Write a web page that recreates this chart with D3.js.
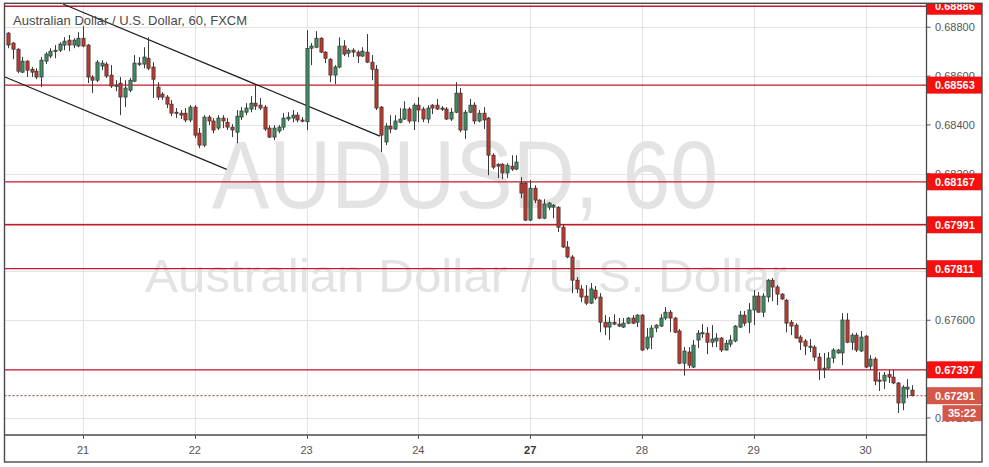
<!DOCTYPE html>
<html><head><meta charset="utf-8">
<script src="https://cdn.jsdelivr.net/npm/d3@7"></script>
<style>html,body{margin:0;padding:0;background:#fff;}svg{display:block;}</style>
</head><body><svg id="c" width="989" height="467"></svg>
<script>
const title = "Australian Dollar / U.S. Dollar, 60, FXCM";
const watermarkMain = "AUDUSD, 60";
const watermarkSub = "Australian Dollar / U.S. Dollar";
const dayLabels = ["21","22","23","24","27","28","29","30"];
const dayBars = [16,40,64,88,112,136,160,184];
const weekStart = ["27"];
const priceTicks = [0.688,0.686,0.684,0.682,0.680,0.678,0.676,0.674,0.672];
const levels = [0.68886,0.68563,0.68167,0.67991,0.67811,0.67397];
const lastPrice = 0.67291;
const countdown = "35:22";
const channelUpper = [[11.7,0.68895],[79.75,0.68354]];
const channelLower = [[-0.75,0.68596],[46.85,0.68218]];

const open = [0.68776,0.68735,0.68710,0.68616,0.68661,0.68628,0.68620,0.68596,0.68661,0.68682,0.68702,0.68706,0.68727,0.68747,0.68727,0.68723,0.68755,0.68727,0.68596,0.68583,
0.68641,0.68649,0.68604,0.68563,0.68571,0.68514,0.68542,0.68579,0.68649,0.68649,0.68673,0.68637,0.68555,0.68526,0.68514,0.68485,0.68452,0.68448,0.68448,0.68420,
0.68473,0.68366,0.68317,0.68432,0.68416,0.68387,0.68428,0.68411,0.68391,0.68370,0.68432,0.68452,0.68465,0.68489,0.68481,0.68473,0.68387,0.68350,0.68375,0.68391,
0.68424,0.68428,0.68440,0.68420,0.68413,0.68714,0.68718,0.68755,0.68698,0.68669,0.68604,0.68637,0.68723,0.68694,0.68706,0.68698,0.68682,0.68698,0.68657,0.68628,
0.68473,0.68330,0.68395,0.68383,0.68411,0.68424,0.68465,0.68416,0.68481,0.68465,0.68424,0.68481,0.68481,0.68469,0.68465,0.68424,0.68452,0.68530,0.68379,0.68452,
0.68481,0.68416,0.68448,0.68428,0.68276,0.68239,0.68239,0.68203,0.68231,0.68219,0.68162,0.68162,0.68010,0.68141,0.68092,0.68018,0.68063,0.68063,0.68063,0.67981,
0.67900,0.67859,0.67764,0.67728,0.67699,0.67670,0.67723,0.67695,0.67592,0.67572,0.67592,0.67584,0.67572,0.67588,0.67609,0.67592,0.67621,0.67486,0.67531,0.67568,
0.67576,0.67609,0.67633,0.67609,0.67556,0.67424,0.67470,0.67408,0.67519,0.67547,0.67547,0.67510,0.67515,0.67527,0.67478,0.67502,0.67515,0.67572,0.67621,0.67592,
0.67642,0.67699,0.67633,0.67695,0.67764,0.67736,0.67707,0.67682,0.67592,0.67580,0.67531,0.67515,0.67494,0.67490,0.67449,0.67404,0.67404,0.67445,0.67466,0.67466,
0.67601,0.67510,0.67539,0.67474,0.67535,0.67412,0.67441,0.67355,0.67351,0.67378,0.67367,0.67343,0.67261,0.67318,0.67314];
const high = [0.68780,0.68739,0.68714,0.68678,0.68665,0.68637,0.68632,0.68678,0.68698,0.68714,0.68727,0.68739,0.68759,0.68768,0.68755,0.68780,0.68804,0.68731,0.68604,0.68665,
0.68665,0.68657,0.68645,0.68583,0.68596,0.68583,0.68592,0.68686,0.68678,0.68718,0.68759,0.68657,0.68575,0.68534,0.68522,0.68502,0.68469,0.68461,0.68469,0.68481,
0.68481,0.68387,0.68440,0.68440,0.68428,0.68440,0.68440,0.68428,0.68403,0.68461,0.68473,0.68489,0.68518,0.68563,0.68510,0.68481,0.68399,0.68399,0.68399,0.68448,
0.68452,0.68461,0.68452,0.68432,0.68788,0.68735,0.68784,0.68759,0.68702,0.68673,0.68645,0.68759,0.68747,0.68714,0.68714,0.68706,0.68718,0.68772,0.68686,0.68645,
0.68477,0.68407,0.68440,0.68440,0.68469,0.68497,0.68473,0.68489,0.68514,0.68473,0.68481,0.68485,0.68506,0.68477,0.68473,0.68469,0.68575,0.68551,0.68461,0.68506,
0.68493,0.68461,0.68473,0.68432,0.68284,0.68243,0.68243,0.68243,0.68276,0.68276,0.68186,0.68166,0.68174,0.68153,0.68096,0.68096,0.68084,0.68076,0.68067,0.67994,
0.67924,0.67867,0.67777,0.67744,0.67744,0.67752,0.67740,0.67711,0.67621,0.67613,0.67625,0.67609,0.67609,0.67613,0.67621,0.67625,0.67625,0.67568,0.67580,0.67584,
0.67625,0.67654,0.67642,0.67613,0.67564,0.67490,0.67490,0.67519,0.67560,0.67584,0.67572,0.67580,0.67547,0.67531,0.67519,0.67539,0.67580,0.67638,0.67638,0.67670,
0.67723,0.67715,0.67711,0.67769,0.67773,0.67744,0.67711,0.67687,0.67601,0.67588,0.67539,0.67523,0.67523,0.67498,0.67466,0.67466,0.67470,0.67486,0.67482,0.67629,
0.67629,0.67547,0.67549,0.67556,0.67539,0.67457,0.67449,0.67388,0.67388,0.67396,0.67396,0.67347,0.67334,0.67359,0.67334];
const low = [0.68714,0.68669,0.68612,0.68612,0.68596,0.68596,0.68587,0.68555,0.68649,0.68673,0.68673,0.68698,0.68706,0.68702,0.68714,0.68718,0.68718,0.68571,0.68530,0.68575,
0.68624,0.68592,0.68551,0.68538,0.68440,0.68473,0.68534,0.68575,0.68641,0.68632,0.68624,0.68510,0.68502,0.68502,0.68469,0.68436,0.68428,0.68424,0.68411,0.68411,
0.68346,0.68305,0.68309,0.68399,0.68366,0.68379,0.68387,0.68379,0.68350,0.68325,0.68420,0.68440,0.68452,0.68461,0.68461,0.68375,0.68346,0.68338,0.68366,0.68379,
0.68416,0.68411,0.68411,0.68411,0.68379,0.68645,0.68714,0.68694,0.68653,0.68575,0.68567,0.68632,0.68682,0.68678,0.68678,0.68653,0.68678,0.68653,0.68583,0.68461,
0.68289,0.68317,0.68366,0.68379,0.68407,0.68420,0.68407,0.68379,0.68411,0.68411,0.68407,0.68444,0.68461,0.68457,0.68420,0.68416,0.68448,0.68370,0.68342,0.68448,
0.68403,0.68411,0.68383,0.68194,0.68219,0.68182,0.68178,0.68182,0.68211,0.68215,0.68100,0.68006,0.68006,0.68080,0.68014,0.68014,0.68051,0.68018,0.67961,0.67896,
0.67854,0.67711,0.67711,0.67674,0.67662,0.67666,0.67683,0.67551,0.67539,0.67519,0.67580,0.67572,0.67568,0.67584,0.67584,0.67572,0.67474,0.67478,0.67482,0.67551,
0.67572,0.67601,0.67551,0.67547,0.67420,0.67373,0.67404,0.67404,0.67486,0.67527,0.67461,0.67490,0.67490,0.67470,0.67476,0.67490,0.67510,0.67568,0.67576,0.67547,
0.67580,0.67630,0.67613,0.67674,0.67678,0.67662,0.67683,0.67551,0.67539,0.67525,0.67478,0.67457,0.67470,0.67433,0.67355,0.67363,0.67398,0.67424,0.67462,0.67416,
0.67506,0.67478,0.67470,0.67470,0.67404,0.67396,0.67334,0.67310,0.67318,0.67343,0.67338,0.67220,0.67232,0.67281,0.67288];
const close = [0.68727,0.68710,0.68620,0.68661,0.68624,0.68616,0.68596,0.68665,0.68690,0.68702,0.68706,0.68731,0.68743,0.68727,0.68747,0.68755,0.68723,0.68596,0.68583,0.68657,
0.68653,0.68600,0.68559,0.68559,0.68514,0.68551,0.68583,0.68653,0.68653,0.68678,0.68632,0.68587,0.68514,0.68514,0.68485,0.68448,0.68448,0.68440,0.68420,0.68473,
0.68358,0.68317,0.68432,0.68416,0.68379,0.68428,0.68416,0.68391,0.68379,0.68436,0.68457,0.68469,0.68489,0.68477,0.68469,0.68383,0.68350,0.68387,0.68391,0.68428,
0.68432,0.68440,0.68420,0.68416,0.68713,0.68723,0.68755,0.68698,0.68673,0.68604,0.68637,0.68723,0.68690,0.68706,0.68698,0.68682,0.68702,0.68657,0.68628,0.68469,
0.68358,0.68395,0.68383,0.68416,0.68424,0.68465,0.68416,0.68481,0.68461,0.68424,0.68469,0.68469,0.68465,0.68465,0.68424,0.68452,0.68530,0.68379,0.68452,0.68481,
0.68416,0.68448,0.68420,0.68276,0.68227,0.68231,0.68203,0.68235,0.68219,0.68248,0.68121,0.68010,0.68141,0.68092,0.68018,0.68076,0.68080,0.68071,0.67981,0.67900,
0.67859,0.67764,0.67728,0.67695,0.67670,0.67728,0.67691,0.67592,0.67572,0.67592,0.67584,0.67576,0.67588,0.67609,0.67588,0.67621,0.67478,0.67531,0.67568,0.67580,
0.67609,0.67633,0.67609,0.67551,0.67424,0.67474,0.67416,0.67498,0.67547,0.67549,0.67510,0.67523,0.67527,0.67478,0.67506,0.67519,0.67576,0.67621,0.67588,0.67642,
0.67699,0.67633,0.67699,0.67764,0.67736,0.67707,0.67687,0.67588,0.67576,0.67527,0.67510,0.67494,0.67490,0.67449,0.67400,0.67400,0.67445,0.67478,0.67478,0.67601,
0.67510,0.67539,0.67478,0.67531,0.67408,0.67441,0.67351,0.67353,0.67375,0.67367,0.67343,0.67261,0.67326,0.67326,0.67291];

const svg = d3.select("#c");
const L = 4.5, R = 926.5, T = 3.3, B = 435, RB = 982, BB = 462;
const x = d3.scaleLinear().domain([16,184]).range([83,865.5]);
const y = d3.scaleLinear().domain([0.6713,0.68898]).range([B,T]);
const FONT = "'Liberation Sans', Arial, sans-serif";

svg.append("defs").append("clipPath").attr("id","plot")
  .append("rect").attr("x",L).attr("y",T).attr("width",R-L).attr("height",B-T);
svg.select("defs").append("clipPath").attr("id","axisclip")
  .append("rect").attr("x",R).attr("y",T).attr("width",RB-R).attr("height",BB-T);

const plot = svg.append("g").attr("clip-path","url(#plot)");

// watermark
plot.append("text").text(watermarkMain).attr("x",465).attr("y",208)
  .attr("text-anchor","middle").attr("font-family",FONT).attr("font-size",96)
  .attr("textLength",506).attr("lengthAdjust","spacingAndGlyphs").attr("fill","#e3e3e3");
plot.append("text").text(watermarkSub).attr("x",466).attr("y",292)
  .attr("text-anchor","middle").attr("font-family",FONT).attr("font-size",47)
  .attr("textLength",642).attr("lengthAdjust","spacingAndGlyphs").attr("fill","#e3e3e3");

// grid
plot.selectAll("line.hg").data(priceTicks).enter().append("line")
  .attr("x1",L).attr("x2",R).attr("y1",d=>Math.round(y(d))+0.5).attr("y2",d=>Math.round(y(d))+0.5)
  .attr("stroke","#e3e3e3").attr("stroke-width",1);
plot.selectAll("line.vg").data(dayBars).enter().append("line")
  .attr("y1",T).attr("y2",B).attr("x1",d=>Math.round(x(d))+0.5).attr("x2",d=>Math.round(x(d))+0.5)
  .attr("stroke","#e3e3e3").attr("stroke-width",1);

// level lines
plot.selectAll("line.lv").data(levels).enter().append("line")
  .attr("x1",L).attr("x2",R).attr("y1",d=>y(d)).attr("y2",d=>y(d))
  .attr("stroke","#c4192d").attr("stroke-width",1.3);
// last price dotted
plot.append("line").attr("x1",L).attr("x2",R).attr("y1",y(lastPrice)).attr("y2",y(lastPrice))
  .attr("stroke","#8e3b3b").attr("stroke-width",1).attr("stroke-dasharray","2,2");

// channel
[channelUpper, channelLower].forEach(c=>{
  plot.append("line").attr("x1",x(c[0][0])).attr("y1",y(c[0][1])).attr("x2",x(c[1][0])).attr("y2",y(c[1][1]))
    .attr("stroke","#1e1e1e").attr("stroke-width",1.2);
});

// candles
const data = open.map((o,i)=>({i,o,h:high[i],l:low[i],c:close[i]}));
const cg = plot.append("g");
cg.selectAll("line.w").data(data).enter().append("line")
  .attr("x1",d=>Math.round(x(d.i))+0.5).attr("x2",d=>Math.round(x(d.i))+0.5)
  .attr("y1",d=>y(d.h)).attr("y2",d=>y(d.l)).attr("stroke","#3b3b3b").attr("stroke-width",1);
cg.selectAll("rect.b").data(data).enter().append("rect")
  .attr("x",d=>Math.round(x(d.i))+0.5-1.6).attr("width",3.2)
  .attr("y",d=>y(Math.max(d.o,d.c)))
  .attr("height",d=>Math.max(1.2,y(Math.min(d.o,d.c))-y(Math.max(d.o,d.c))))
  .attr("fill",d=>d.c>=d.o?"#3f8f63":"#c0392e")
  .attr("stroke","#333").attr("stroke-width",0.7);

// title
svg.append("text").text(title).attr("x",13).attr("y",25).attr("font-family",FONT)
  .attr("font-size",13).attr("fill","#4a4a4a");

// right axis ticks and labels (labels fully hidden behind level tags are not drawn)
const visibleTicks = priceTicks.filter(t=>!levels.some(l=>Math.abs(l-t)<0.00015));
const ax = svg.append("g").attr("clip-path","url(#axisclip)");
ax.selectAll("line.t").data(priceTicks).enter().append("line")
  .attr("x1",R).attr("x2",R+4).attr("y1",d=>y(d)).attr("y2",d=>y(d)).attr("stroke","#555");
ax.selectAll("text.t").data(visibleTicks).enter().append("text")
  .attr("x",935).attr("y",d=>y(d)+4).text(d=>d.toFixed(5))
  .attr("font-family",FONT).attr("font-size",11).attr("fill","#555");

// level labels
const lg = ax.selectAll("g.lv").data(levels).enter().append("g");
lg.append("rect").attr("x",R).attr("width",RB-R).attr("y",d=>y(d)-8.5).attr("height",17).attr("fill","#f50f0f");
lg.append("text").attr("x",935).attr("y",d=>y(d)+4).text(d=>d.toFixed(5))
  .attr("font-family",FONT).attr("font-size",11).attr("font-weight","bold").attr("fill","#fff");

// last price label + countdown
ax.append("rect").attr("x",R).attr("width",RB-R).attr("y",y(lastPrice)-8.5).attr("height",17).attr("fill","#d4574a");
ax.append("text").attr("x",935).attr("y",y(lastPrice)+4).text(lastPrice.toFixed(5))
  .attr("font-family",FONT).attr("font-size",11).attr("font-weight","bold").attr("fill","#fff");
ax.append("rect").attr("x",942.5).attr("width",RB-942.5).attr("y",y(lastPrice)+9.5).attr("height",16).attr("fill","#d4574a");
ax.append("text").attr("x",962).attr("y",y(lastPrice)+21.5).text(countdown).attr("text-anchor","middle")
  .attr("font-family",FONT).attr("font-size",11).attr("font-weight","bold").attr("fill","#fff");

// bottom axis
svg.selectAll("line.bt").data(dayBars).enter().append("line")
  .attr("x1",d=>Math.round(x(d))+0.5).attr("x2",d=>Math.round(x(d))+0.5).attr("y1",B).attr("y2",B+4).attr("stroke","#555");
svg.selectAll("text.bt").data(dayLabels).enter().append("text")
  .attr("x",(d,k)=>x(dayBars[k])).attr("y",454).attr("text-anchor","middle").text(d=>d)
  .attr("font-family",FONT).attr("font-size",11)
  .attr("font-weight",d=>weekStart.includes(d)?"bold":"normal")
  .attr("fill",d=>weekStart.includes(d)?"#333":"#555");

// frame
svg.append("line").attr("x1",L).attr("x2",R).attr("y1",B).attr("y2",B).attr("stroke","#4a4a4a").attr("stroke-width",1.3);
svg.append("line").attr("x1",R).attr("x2",R).attr("y1",T).attr("y2",BB).attr("stroke","#4a4a4a").attr("stroke-width",1.3);
svg.append("rect").attr("x",L).attr("y",T).attr("width",RB-L).attr("height",BB-T)
  .attr("fill","none").attr("stroke","#4a4a4a").attr("stroke-width",1.4);
</script></body></html>
